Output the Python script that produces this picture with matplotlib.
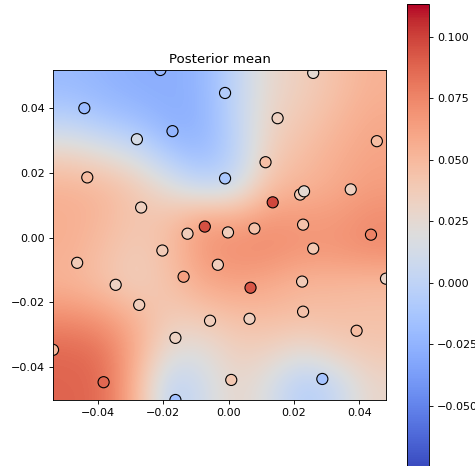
import numpy as np
import matplotlib
matplotlib.use("Agg")
import matplotlib.pyplot as plt

# observed locations and their values (colour of each marker)
pt_x = [-0.0209, -0.0442, -0.0011, 0.0259, -0.0281, -0.0172, 0.0150, 0.0454,
        -0.0433, -0.0011, 0.0113, -0.0268, 0.0219, 0.0231, 0.0374, 0.0135,
        -0.0073, -0.0126, -0.0002, 0.0079, 0.0228, 0.0436, 0.0259, -0.0203,
        -0.0464, -0.0033, -0.0138, 0.0067, 0.0225, 0.0482, -0.0346, -0.0274,
        -0.0057, 0.0064, 0.0228, 0.0392, -0.0163, -0.0538, -0.0383, 0.0008,
        0.0287, -0.0163]
pt_y = [0.0518, 0.0400, 0.0447, 0.0509, 0.0304, 0.0329, 0.0369, 0.0298,
        0.0186, 0.0183, 0.0233, 0.0093, 0.0133, 0.0143, 0.0149, 0.0109,
        0.0034, 0.0012, 0.0016, 0.0028, 0.0040, 0.0009, -0.0034, -0.0040,
        -0.0078, -0.0084, -0.0121, -0.0155, -0.0136, -0.0127, -0.0146, -0.0208,
        -0.0257, -0.0251, -0.0229, -0.0288, -0.0310, -0.0347, -0.0447, -0.0440,
        -0.0437, -0.0502]
pt_val = [-0.022, -0.020, -0.007, 0.025, 0.014, -0.024, 0.034, 0.048,
          0.048, -0.012, 0.046, 0.034, 0.038, 0.025, 0.034, 0.098,
          0.095, 0.036, 0.036, 0.044, 0.044, 0.076, 0.040, 0.038,
          0.038, 0.036, 0.063, 0.093, 0.038, 0.030, 0.032, 0.036,
          0.036, 0.034, 0.044, 0.048, 0.032, 0.050, 0.087, 0.040,
          -0.014, -0.016]

mean_grid = [
    [-0.020, -0.024, -0.028, -0.028, -0.024, 0.001, 0.027, 0.035, 0.045, 0.054],
    [-0.003, -0.013, -0.018, -0.028, -0.026, 0.001, 0.031, 0.040, 0.050, 0.058],
    [0.031, 0.022, 0.010, -0.013, -0.022, -0.003, 0.036, 0.047, 0.055, 0.061],
    [0.053, 0.050, 0.040, 0.020, 0.001, 0.006, 0.047, 0.052, 0.058, 0.064],
    [0.056, 0.051, 0.041, 0.046, 0.063, 0.060, 0.068, 0.066, 0.066, 0.072],
    [0.055, 0.046, 0.037, 0.046, 0.067, 0.072, 0.072, 0.068, 0.068, 0.072],
    [0.053, 0.045, 0.034, 0.045, 0.058, 0.062, 0.058, 0.051, 0.051, 0.049],
    [0.072, 0.067, 0.054, 0.036, 0.040, 0.046, 0.048, 0.046, 0.046, 0.045],
    [0.087, 0.083, 0.058, 0.023, 0.020, 0.035, 0.033, 0.024, 0.035, 0.040],
    [0.088, 0.087, 0.054, -0.003, 0.010, 0.030, 0.016, -0.007, 0.004, 0.029],
]

VMIN, VMAX = -0.0744, 0.1133

fig = plt.figure(figsize=(475 / 80, 466 / 80), dpi=80)
ax = fig.add_axes([53 / 475, 66 / 466, 333 / 475, 330 / 466])
cax = fig.add_axes([407 / 475, 0.0, 22 / 475, 462 / 466])

xmin, xmax = min(pt_x), max(pt_x)
ymin, ymax = min(pt_y), max(pt_y)

im = ax.imshow(np.array(mean_grid), cmap="coolwarm", vmin=VMIN, vmax=VMAX,
               extent=(xmin, xmax, ymin, ymax), origin="upper",
               interpolation="bicubic", aspect="auto")
ax.scatter(pt_x, pt_y, c=pt_val, cmap="coolwarm", vmin=VMIN, vmax=VMAX,
           s=100, edgecolors="k", linewidths=1)
ax.set_xlim(xmin, xmax)
ax.set_ylim(ymin, ymax)
ax.set_xticks([-0.04, -0.02, 0.0, 0.02, 0.04])
ax.set_yticks([-0.04, -0.02, 0.0, 0.02, 0.04])
ax.set_title("Posterior mean")

fig.colorbar(im, cax=cax)

fig.savefig("out.png", dpi=80)
